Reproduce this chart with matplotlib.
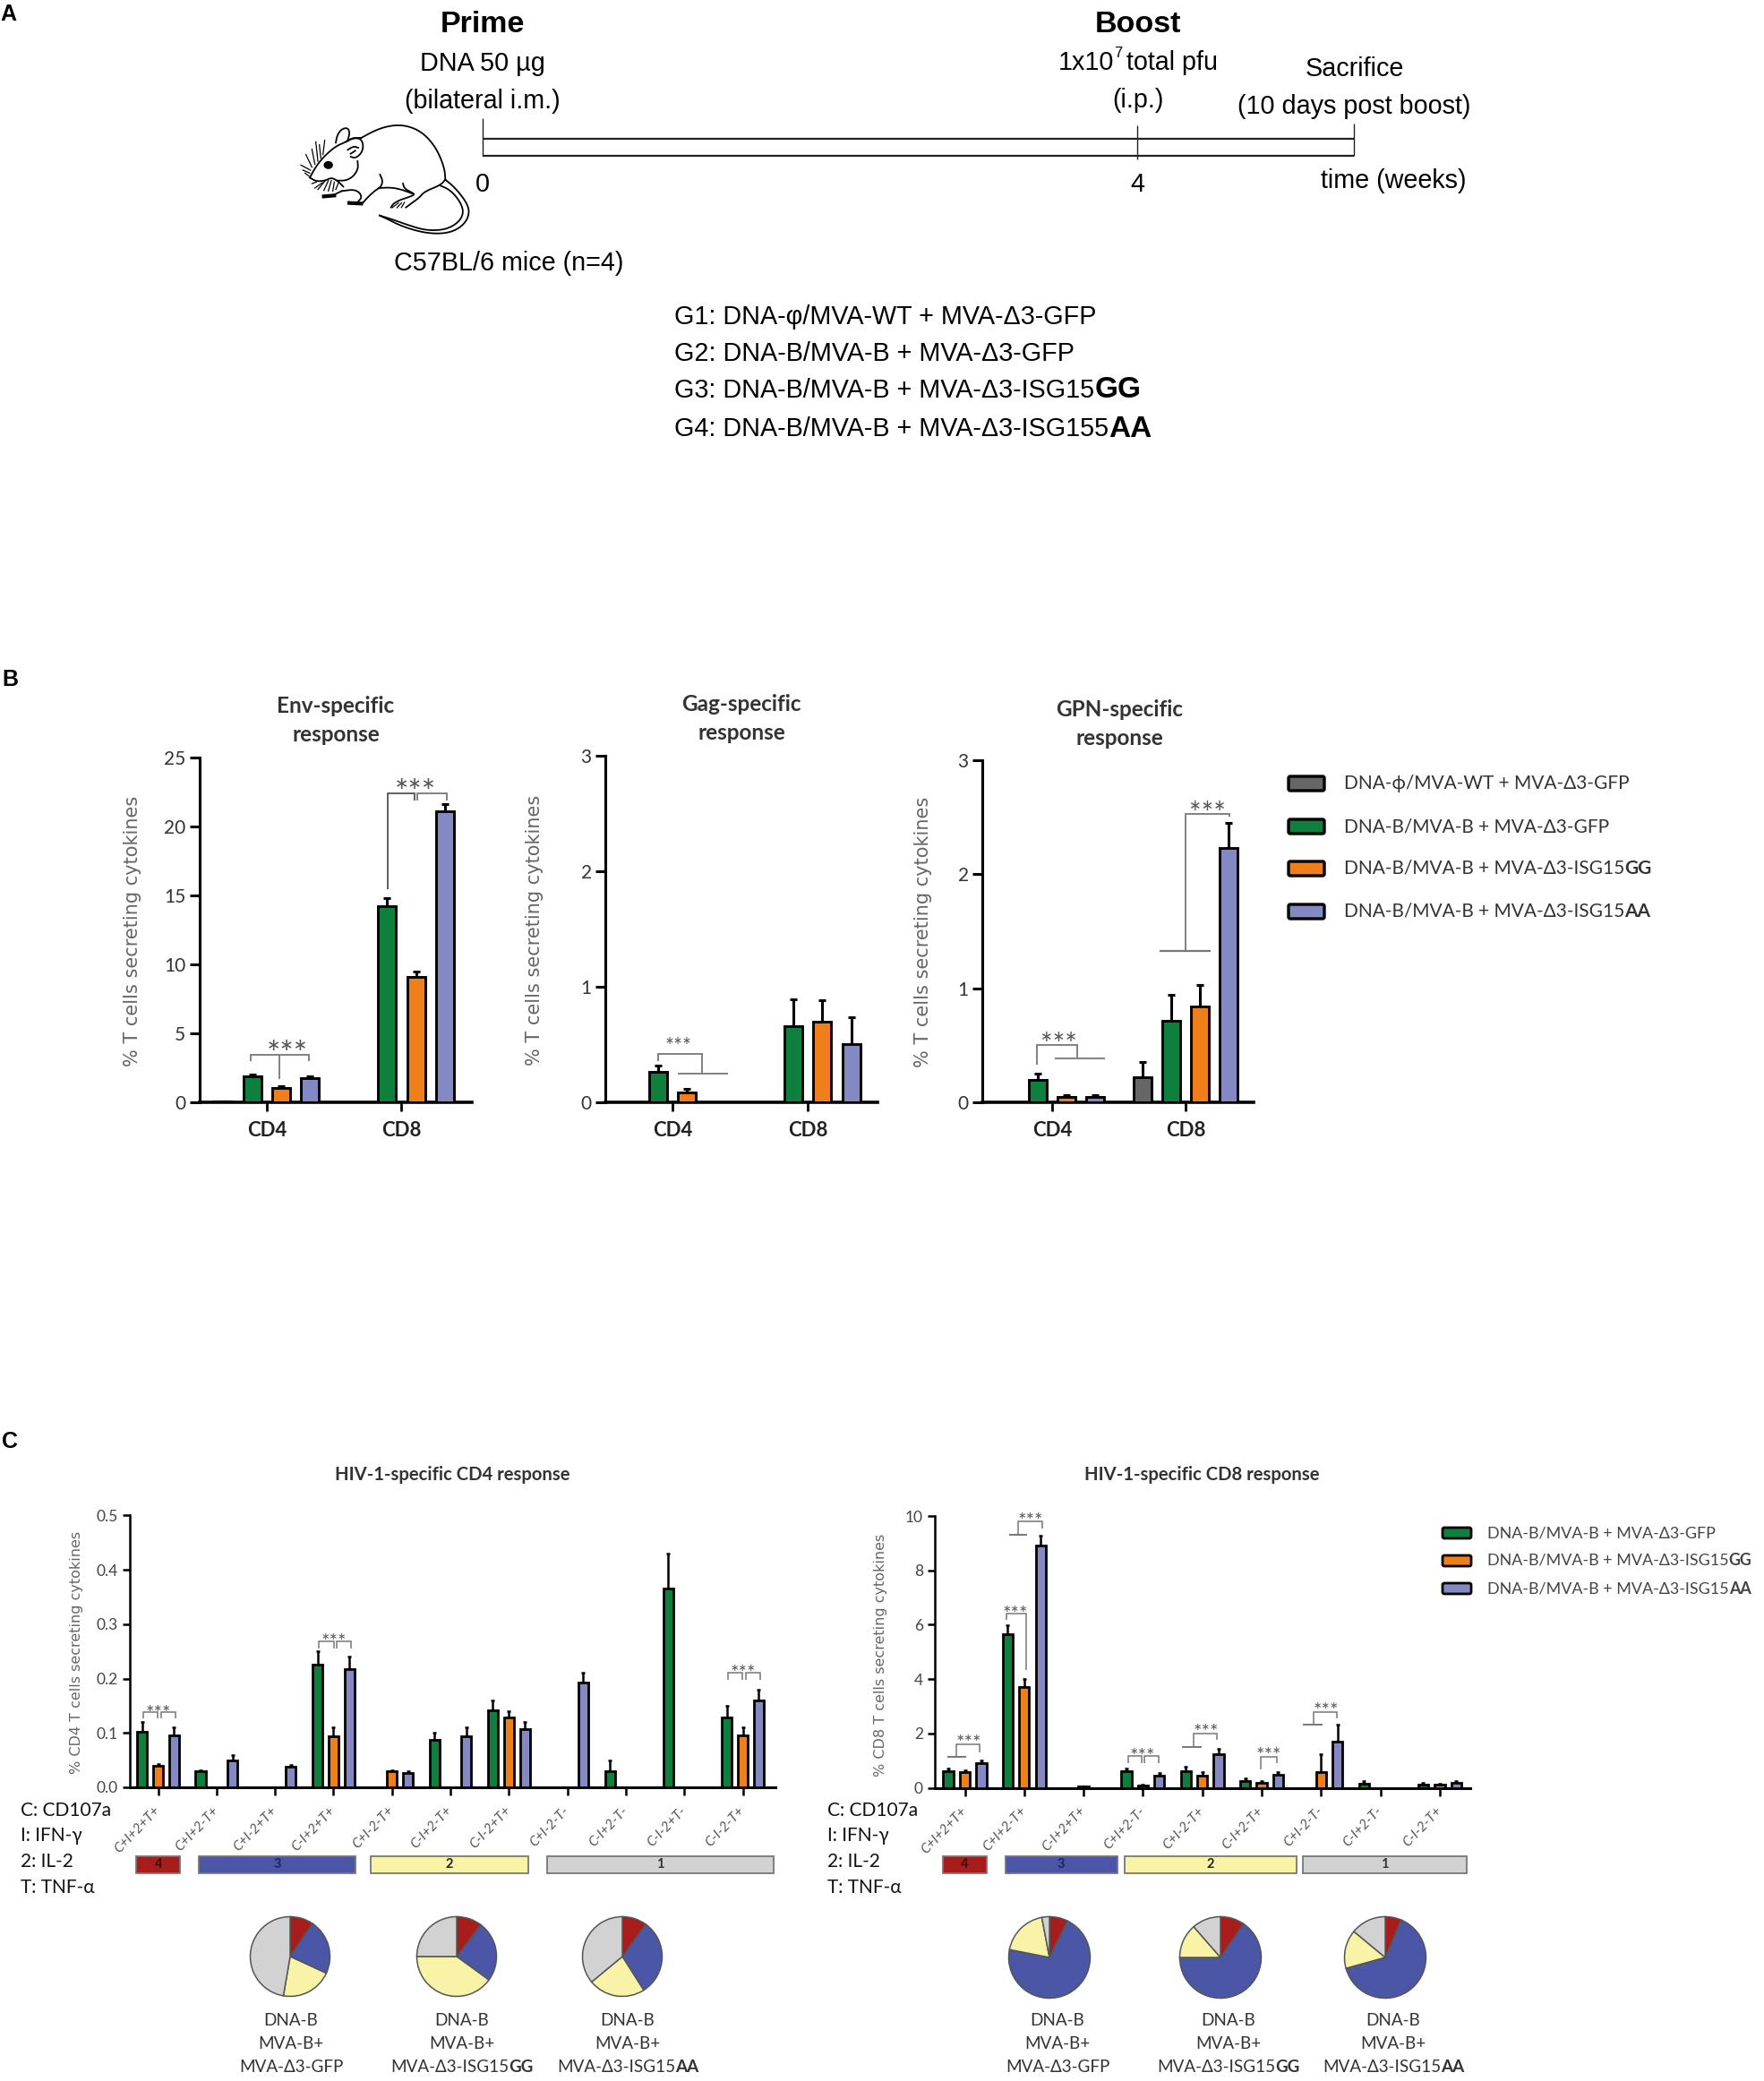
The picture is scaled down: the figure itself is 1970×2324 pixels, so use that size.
import matplotlib
matplotlib.use("Agg")
import matplotlib.pyplot as plt
from matplotlib.patches import Rectangle, Ellipse, FancyBboxPatch

W, H = 1970, 2324
SANS = ['Liberation Sans', 'DejaVu Sans']
BODY = ['Lato', 'Open Sans', 'DejaVu Sans']

GRAY = '#666666'
GREEN = '#0e7f3c'
ORANGE = '#ef7f1a'
PURPLE = '#8489c4'
RED_P = '#a81c1c'
BLUE_P = '#4b56a6'
YELLOW_P = '#f8f3a6'
GRAY_P = '#d2d2d2'

# panel B values (mean / top of error bar), series gray, green, orange, purple
groups_b = ['CD4', 'CD8']

env_ticks = [0, 5, 10, 15, 20, 25]
env_gray = [0.05, 0]
env_gray_top = [0.05, 0]
env_green = [1.86, 14.2]
env_green_top = [2.0, 14.8]
env_orange = [1.05, 9.1]
env_orange_top = [1.15, 9.5]
env_purple = [1.75, 21.1]
env_purple_top = [1.9, 21.6]

gag_ticks = [0, 1, 2, 3]
gag_gray = [0, 0]
gag_gray_top = [0, 0]
gag_green = [0.26, 0.66]
gag_green_top = [0.32, 0.895]
gag_orange = [0.083, 0.695]
gag_orange_top = [0.117, 0.88]
gag_purple = [0, 0.505]
gag_purple_top = [0, 0.733]

gpn_ticks = [0, 1, 2, 3]
gpn_gray = [0, 0.216]
gpn_gray_top = [0, 0.357]
gpn_green = [0.197, 0.717]
gpn_green_top = [0.253, 0.94]
gpn_orange = [0.048, 0.843]
gpn_orange_top = [0.065, 1.03]
gpn_purple = [0.048, 2.227]
gpn_purple_top = [0.065, 2.454]

# panel C, CD4
cd4_labels = ['C+I+2+T+', 'C+I+2-T+', 'C+I-2+T+', 'C-I+2+T+', 'C+I-2-T+', 'C-I+2-T+',
              'C-I-2+T+', 'C+I-2-T-', 'C-I+2-T-', 'C-I-2+T-', 'C-I-2-T+']
cd4_ticks = [0.0, 0.1, 0.2, 0.3, 0.4, 0.5]
cd4_green = [0.102, 0.029, 0, 0.225, 0, 0.088, 0.142, 0, 0.03, 0.365, 0.128]
cd4_green_top = [0.12, 0.031, 0, 0.25, 0, 0.10, 0.16, 0, 0.05, 0.43, 0.15]
cd4_orange = [0.04, 0, 0, 0.094, 0.03, 0, 0.128, 0, 0, 0, 0.096]
cd4_orange_top = [0.042, 0, 0, 0.11, 0.032, 0, 0.14, 0, 0, 0, 0.11]
cd4_purple = [0.096, 0.05, 0.038, 0.218, 0.026, 0.094, 0.107, 0.192, 0, 0, 0.16]
cd4_purple_top = [0.11, 0.06, 0.041, 0.24, 0.03, 0.11, 0.12, 0.21, 0, 0, 0.18]

# panel C, CD8
cd8_labels = ['C+I+2+T+', 'C+I+2-T+', 'C-I+2+T+', 'C+I+2-T-', 'C+I-2-T+', 'C-I+2-T+',
              'C+I-2-T-', 'C-I+2-T-', 'C-I-2-T+']
cd8_ticks = [0, 2, 4, 6, 8, 10]
cd8_green = [0.63, 5.64, 0, 0.6, 0.62, 0.27, 0, 0.15, 0.13]
cd8_green_top = [0.70, 5.97, 0, 0.70, 0.77, 0.35, 0, 0.24, 0.18]
cd8_orange = [0.57, 3.71, 0.04, 0.09, 0.46, 0.19, 0.57, 0, 0.11]
cd8_orange_top = [0.64, 4.0, 0.06, 0.13, 0.59, 0.24, 1.23, 0, 0.15]
cd8_purple = [0.91, 8.92, 0, 0.46, 1.25, 0.47, 1.70, 0, 0.2]
cd8_purple_top = [1.02, 9.26, 0, 0.55, 1.45, 0.59, 2.33, 0, 0.27]

# pies: red, blue, yellow, gray
pie_cd4_gfp = [9.4, 22.5, 20.8, 47.3]
pie_cd4_gg = [10.3, 24.7, 40.0, 25.0]
pie_cd4_aa = [10.0, 31.0, 23.0, 36.0]
pie_cd8_gfp = [7.3, 70.8, 18.9, 3.0]
pie_cd8_gg = [9.5, 65.5, 13.6, 11.4]
pie_cd8_aa = [6.4, 64.3, 15.3, 14.0]

# category bands under panel C, edges on the category axis
band_names = ['4', '3', '2', '1']
band_colors = [RED_P, BLUE_P, YELLOW_P, GRAY_P]
band_text = ['#3a0d0d', '#1c2260', '#222222', '#333333']
cd4_bands = [(-0.37, 0.38), (0.70, 3.38), (3.64, 6.33), (6.65, 10.53)]
cd8_bands = [(-0.375, 0.375), (0.68, 2.57), (2.69, 5.59), (5.69, 8.45)]

fig = plt.figure(figsize=(W / 100, H / 100), dpi=100, facecolor='white')
renderer = fig.canvas.get_renderer()

# overlay in pixel coordinates for text and annotation lines
ov = fig.add_axes([0, 0, 1, 1], zorder=10)
ov.set_xlim(0, W)
ov.set_ylim(H, 0)
ov.axis('off')
ov.patch.set_alpha(0)


def px_axes(x0, x1, ytop, ybot):
    ax = fig.add_axes([x0 / W, 1 - ybot / H, (x1 - x0) / W, (ybot - ytop) / H])
    ax.patch.set_alpha(0)
    for s in ['top', 'right']:
        ax.spines[s].set_visible(False)
    return ax


def label(x, y, s, size, family=BODY, weight='normal', color='#222222', ha='center', **kw):
    return ov.text(x, y, s, fontsize=size, family=family, fontweight=weight, color=color,
                   ha=ha, va='center', **kw)


def rich(x, y, parts, size, family=BODY, color='#222222', ha='left', bold_size=None):
    # mixed normal / bold line, parts are (text, weight)
    items = []
    total = 0
    for s, weight in parts:
        sz = bold_size if (bold_size and weight == 'bold') else size
        t = label(0, y, s, sz, family, weight, color, ha='left')
        w = t.get_window_extent(renderer).width
        items.append((t, w))
        total += w
    cur = x - total / 2 if ha == 'center' else x
    for t, w in items:
        t.set_x(cur)
        cur += w


def lines(points, color='#777777', lw=1.3):
    ov.plot([p[0] for p in points], [p[1] for p in points], color=color, lw=lw,
            solid_capstyle='butt', solid_joinstyle='miter')


def stars(x, y, size=15):
    # asterisks sit high in the text box, y is the centre of the glyphs
    label(x, y + 0.33 * size * 1.389, '***', size, color='#555555')


def draw_bars(ax, xs, means, tops, color, width, lw, cap, elw):
    for x, m, t in zip(xs, means, tops):
        if m <= 0:
            continue
        ax.bar(x, m, width=width, color=color, edgecolor='black', linewidth=lw, zorder=3)
        ax.errorbar(x, m, yerr=[[0], [t - m]], color='black', elinewidth=elw, capsize=cap,
                    capthick=elw, zorder=2)


def panel_b(x0, x1, ytop, ybot, first, step, ticks, series, ylab_x):
    ax = px_axes(x0, x1, ytop, ybot)
    ax.set_xlim((x0 - first) / step, (x1 - first) / step)
    ax.set_ylim(0, ticks[-1])
    gap = 4.66
    for i, (means, tops, color) in enumerate(series):
        xs = [i, i + gap]
        draw_bars(ax, xs, means, tops, color, 0.62, 2.1, 3, 2.2)
    ax.set_xticks([1.5, 1.5 + gap])
    ax.set_xticklabels(groups_b, fontsize=16, family=BODY, fontweight='bold', color='#222222')
    ax.set_yticks(ticks)
    ax.set_yticklabels([str(v) for v in ticks], fontsize=15, family=BODY, color='#333333')
    ax.tick_params(axis='x', length=7, width=2, pad=8)
    ax.tick_params(axis='y', length=8, width=2.2, pad=3)
    ax.spines['left'].set_linewidth(2.2)
    ax.spines['bottom'].set_linewidth(2.6)
    label(ylab_x, (ytop + ybot) / 2 + 1, '% T cells secreting cytokines', 15,
          family=['DejaVu Sans'], color='#666666', rotation=90)
    return ax


def panel_c(x0, x1, ytop, ybot, tick0, step, cats, ticks, ymax, fmt, series, bands, off):
    ax = px_axes(x0, x1, ytop, ybot)
    ax.set_xlim((x0 - tick0) / step, (x1 - tick0) / step)
    ax.set_ylim(0, ymax)
    for i, (means, tops, color) in enumerate(series):
        xs = [k + (i - 1) * off for k in range(len(cats))]
        draw_bars(ax, xs, means, tops, color, 0.17, 2.0, 1.5, 1.8)
    ax.set_xticks(range(len(cats)))
    ax.set_xticklabels(cats, rotation=46, ha='right', va='center', rotation_mode='anchor',
                       fontsize=11, family=BODY, style='italic', color='#555555')
    ax.set_yticks(ticks)
    ax.set_yticklabels([fmt % v for v in ticks], fontsize=12.5, family=BODY, color='#444444')
    ax.tick_params(axis='x', length=6.5, width=1.8, pad=10.5)
    ax.tick_params(axis='y', length=5.5, width=1.8, pad=4)
    ax.spines['left'].set_linewidth(1.8)
    ax.spines['bottom'].set_linewidth(2.2)
    # bands: x follows the category axis, y in figure pixels
    trans = ax.get_xaxis_transform(which='grid')
    ybot_band = (ybot - 2092) / (ybot - ytop)
    yh = (2092 - 2073) / (ybot - ytop)
    for (a, b), name, col, tc in zip(bands, band_names, band_colors, band_text):
        ax.add_patch(Rectangle((a, ybot_band), b - a, yh, transform=trans, facecolor=col,
                               edgecolor='#777777', lw=1.3, clip_on=False))
        ax.text((a + b) / 2, ybot_band + yh / 2, name, transform=trans, ha='center', va='center',
                fontsize=10.5, family=BODY, fontweight='bold', color=tc)
    return ax


def pie(cx, cy, r, fracs):
    pad = 1.03
    ax = fig.add_axes([(cx - r * pad) / W, 1 - (cy + r * pad) / H, 2 * r * pad / W, 2 * r * pad / H])
    ax.pie(fracs, colors=[RED_P, BLUE_P, YELLOW_P, GRAY_P], startangle=90, counterclock=False,
           wedgeprops={'edgecolor': '#555555', 'linewidth': 1.1})
    ax.set_xlim(-pad, pad)
    ax.set_ylim(-pad, pad)


def smooth(pts, n=2):
    for _ in range(n):
        out = [pts[0]]
        for a, b in zip(pts[:-1], pts[1:]):
            out.append((0.75 * a[0] + 0.25 * b[0], 0.75 * a[1] + 0.25 * b[1]))
            out.append((0.25 * a[0] + 0.75 * b[0], 0.25 * a[1] + 0.75 * b[1]))
        out.append(pts[-1])
        pts = out
    return pts


# ---------- panel A ----------
label(0, 16, 'A', 18, SANS, 'bold', 'black', ha='left')
label(539, 28, 'Prime', 24.5, SANS, 'bold', 'black')
label(1271, 27, 'Boost', 24.5, SANS, 'bold', 'black')
label(539, 71, 'DNA 50 µg', 20.7, SANS, color='black')
label(539, 113, '(bilateral i.m.)', 20.7, SANS, color='black')
label(1182, 70, '1x10', 20.7, SANS, color='black', ha='left')
label(1244, 60, '7', 12, SANS, color='black', ha='left')
label(1258, 70, 'total pfu', 20.7, SANS, color='black', ha='left')
label(1271, 112, '(i.p.)', 20.7, SANS, color='black')
label(1513, 77, 'Sacrifice', 20.7, SANS, color='black')
label(1512, 119, '(10 days post boost)', 20.7, SANS, color='black')
label(539, 206, '0', 20.7, SANS, color='black')
label(1270, 206, '4', 20.7, SANS, color='black')
label(1556, 202, 'time (weeks)', 20.7, SANS, color='black')
label(568, 294, 'C57BL/6 mice (n=4)', 20.7, SANS, color='black')
lines([(539, 155), (1512, 155)], '#222222', 1.6)
lines([(539, 174), (1512, 174)], '#222222', 1.6)
lines([(539, 132), (539, 174)], '#222222', 1.0)
lines([(1270, 140), (1270, 178)], '#222222', 1.0)
lines([(1512, 138), (1512, 174)], '#222222', 1.0)

g_lines = [[('G1: DNA-φ/MVA-WT + MVA-Δ3-GFP', 'normal')],
           [('G2: DNA-B/MVA-B + MVA-Δ3-GFP', 'normal')],
           [('G3: DNA-B/MVA-B + MVA-Δ3-ISG15', 'normal'), ('GG', 'bold')],
           [('G4: DNA-B/MVA-B + MVA-Δ3-ISG155', 'normal'), ('AA', 'bold')]]
for parts, y in zip(g_lines, [354, 395, 436, 479]):
    rich(753, y, parts, 20.7, SANS, 'black', bold_size=24)

# mouse, traced line art
mouse = [
    [(250, 72), (300, 45), (350, 30), (400, 30), (450, 50), (490, 90), (515, 135), (530, 180), (532, 212)],
    [(532, 212), (560, 235), (590, 270), (608, 300), (612, 325), (600, 355), (570, 380), (530, 392),
     (480, 392), (430, 382), (380, 365), (340, 345), (312, 332)],
    [(516, 232), (545, 245), (570, 270), (588, 300), (592, 325), (580, 350), (550, 372), (510, 382),
     (460, 380), (410, 365), (360, 347), (312, 332)],
    [(532, 212), (516, 230), (462, 252), (445, 272), (420, 290), (400, 305)],
    [(390, 225), (395, 242), (420, 255), (430, 262), (405, 272), (380, 280), (358, 292), (350, 305)],
    [(310, 240), (350, 238), (385, 245), (420, 258)],
    [(310, 240), (295, 250), (275, 268), (255, 290)],
    [(313, 195), (322, 215), (318, 232), (310, 240)],
    [(185, 250), (225, 245), (245, 255), (252, 272), (240, 285)],
    [(78, 205), (100, 165), (130, 130), (165, 100), (200, 85), (220, 72), (250, 72)],
    [(165, 88), (170, 62), (185, 42), (205, 38), (212, 55), (205, 80)],
    [(200, 85), (225, 72), (250, 75), (258, 100), (250, 125), (230, 140), (215, 135)],
    [(205, 112), (225, 100), (240, 105)],
    [(215, 125), (230, 115)],
    [(238, 150), (240, 175), (225, 200), (200, 215), (170, 215)],
    [(78, 205), (100, 218), (130, 215), (150, 205), (170, 215), (190, 235)],
    [(160, 262), (185, 250)],
]
whiskers = [
    [(85, 170), (65, 128)], [(95, 160), (85, 110)], [(105, 150), (98, 85)], [(115, 140), (110, 95)],
    [(122, 128), (128, 80)], [(80, 180), (48, 163)], [(78, 190), (55, 180)], [(75, 200), (62, 190)],
    [(130, 215), (105, 245)], [(140, 215), (125, 248)], [(150, 215), (140, 250)], [(160, 220), (155, 250)],
    [(100, 220), (85, 225)], [(175, 220), (165, 245)], [(120, 222), (95, 240)],
    [(355, 305), (375, 290)], [(370, 306), (385, 290)], [(385, 305), (395, 288)],
]
blobs = [[(125, 268), (160, 265)], [(210, 290), (250, 292)]]


def mx(p):
    return (320 + p[0] / 3, 130 + p[1] / 3)


for pts in mouse:
    s = smooth([mx(p) for p in pts])
    ov.plot([p[0] for p in s], [p[1] for p in s], color='black', lw=1.3)
for pts in whiskers:
    s = [mx(p) for p in pts]
    ov.plot([p[0] for p in s], [p[1] for p in s], color='black', lw=0.9)
for pts in blobs:
    s = [mx(p) for p in pts]
    ov.plot([p[0] for p in s], [p[1] for p in s], color='black', lw=3)
ov.add_patch(Ellipse(mx((140, 163)), 9, 7.5, color='black'))

# ---------- panel B ----------
label(2, 759, 'B', 18, SANS, 'bold', 'black', ha='left')
label(375, 788, 'Env-specific', 17.5, weight='bold', color='#333333')
label(375, 820, 'response', 17.5, weight='bold', color='#333333')
label(828, 787, 'Gag-specific', 17.5, weight='bold', color='#333333')
label(828, 819, 'response', 17.5, weight='bold', color='#333333')
label(1250, 792, 'GPN-specific', 17.5, weight='bold', color='#333333')
label(1250, 824, 'response', 17.5, weight='bold', color='#333333')

panel_b(222.5, 527, 846, 1231, 249.4, 32.3, env_ticks,
        [(env_gray, env_gray_top, GRAY), (env_green, env_green_top, GREEN),
         (env_orange, env_orange_top, ORANGE), (env_purple, env_purple_top, PURPLE)], 148)
panel_b(676, 980, 844, 1231, 702.5, 32.4, gag_ticks,
        [(gag_gray, gag_gray_top, GRAY), (gag_green, gag_green_top, GREEN),
         (gag_orange, gag_orange_top, ORANGE), (gag_purple, gag_purple_top, PURPLE)], 597)
panel_b(1097, 1400, 849, 1231, 1127, 32.0, gpn_ticks,
        [(gpn_gray, gpn_gray_top, GRAY), (gpn_green, gpn_green_top, GREEN),
         (gpn_orange, gpn_orange_top, ORANGE), (gpn_purple, gpn_purple_top, PURPLE)], 1031)

# significance marks, panel B
lines([(280, 1185), (280, 1178), (345, 1178), (345, 1185)])
lines([(312, 1178), (312, 1205)])
stars(321, 1167, 26)
lines([(433, 993), (433, 886), (463, 886), (463, 894)], '#444444', 1.2)
lines([(466, 894), (466, 886), (499, 886), (499, 894)], '#777777')
stars(464, 875, 26)
lines([(735, 1185), (735, 1177), (784, 1177), (784, 1199)])
lines([(757, 1199), (813, 1199)])
stars(758, 1161, 17)
lines([(1158, 1189), (1158, 1167), (1203, 1167), (1203, 1182)])
lines([(1178, 1182), (1234, 1182)])
stars(1182, 1157, 23)
lines([(1373, 912), (1373, 909), (1324, 909), (1324, 1062)])
lines([(1295, 1062), (1352, 1062)], lw=1.6)
stars(1348, 899, 23)

legend_b = [([('DNA-ϕ/MVA-WT + MVA-Δ3-GFP', 'normal')], GRAY),
            ([('DNA-B/MVA-B + MVA-Δ3-GFP', 'normal')], GREEN),
            ([('DNA-B/MVA-B + MVA-Δ3-ISG15', 'normal'), ('GG', 'bold')], ORANGE),
            ([('DNA-B/MVA-B + MVA-Δ3-ISG15', 'normal'), ('AA', 'bold')], PURPLE)]
for (parts, col), y in zip(legend_b, [875, 923, 970, 1018]):
    ov.add_patch(FancyBboxPatch((1439, y - 8), 40, 16, boxstyle='round,pad=0,rounding_size=2',
                                facecolor=col, edgecolor='black', lw=2.4))
    rich(1501, y, parts, 15, color='#333333')

# ---------- panel C ----------
label(2, 1610, 'C', 18, SANS, 'bold', 'black', ha='left')
label(505, 1647, 'HIV-1-specific CD4 response', 14.6, weight='bold', color='#333333')
label(1342.5, 1647, 'HIV-1-specific CD8 response', 14.6, weight='bold', color='#333333')

panel_c(145, 866, 1692.3, 1996, 176.5, 65.3, cd4_labels, cd4_ticks, 0.5, '%.1f',
        [(cd4_green, cd4_green_top, GREEN), (cd4_orange, cd4_orange_top, ORANGE),
         (cd4_purple, cd4_purple_top, PURPLE)], cd4_bands, 0.273)
panel_c(1044, 1642, 1693, 1996.7, 1077.5, 66.3, cd8_labels, cd8_ticks, 10, '%d',
        [(cd8_green, cd8_green_top, GREEN), (cd8_orange, cd8_orange_top, ORANGE),
         (cd8_purple, cd8_purple_top, PURPLE)], cd8_bands, 0.278)

label(85.5, 1845, '% CD4 T cells secreting cytokines', 11.5, family=['DejaVu Sans'], color='#666666', rotation=90)
label(983.5, 1848, '% CD8 T cells secreting cytokines', 11.5, family=['DejaVu Sans'], color='#666666', rotation=90)

for x in [23, 924]:
    for s, y in zip(['C: CD107a', 'I: IFN-γ', '2: IL-2', 'T: TNF-α'], [2022, 2050, 2079, 2108]):
        label(x, y, s, 15, color='#111111', ha='left')

# significance marks, panel C
for a, b, c, d, yt, yb in [(159.5, 175.5, 179.5, 195.5, 1911.7, 1919.3),
                           (356, 373, 376, 392, 1832.7, 1840.7),
                           (813, 829, 833, 849, 1867.7, 1875.7),
                           (1260, 1275, 1278, 1294, 1960.7, 1968.7)]:
    lines([(a, yb), (a, yt), (b, yt), (b, yb)], lw=1.1)
    lines([(c, yb), (c, yt), (d, yt), (d, yb)], lw=1.1)
for x, y in [(176.5, 1906.7), (373, 1827), (830, 1862), (1276, 1955), (1082, 1940), (1151, 1691.7),
             (1134, 1795.3), (1347, 1927.3), (1417, 1953.7), (1481, 1903.7)]:
    stars(x, y, 16)
lines([(1058, 1962.3), (1079, 1962.3)], lw=1.4)
lines([(1068, 1962.3), (1068, 1948.3), (1094, 1948.3), (1094, 1956.7)], lw=1.1)
lines([(1127, 1714), (1147, 1714)], lw=1.4)
lines([(1137, 1714), (1137, 1699.3), (1164, 1699.3), (1164, 1707.3)], lw=1.1)
lines([(1124, 1809.3), (1124, 1802), (1146, 1802), (1146, 1865)], lw=1.1)
lines([(1320, 1951), (1342, 1951)], lw=1.4)
lines([(1333, 1951), (1333, 1936), (1359, 1936), (1359, 1943.3)], lw=1.1)
lines([(1408, 1976), (1408, 1961.7), (1426, 1961.7), (1426, 1968.7)], lw=1.1)
lines([(1455, 1926), (1477, 1926)], lw=1.4)
lines([(1467, 1926), (1467, 1912), (1493, 1912), (1493, 1919.3)], lw=1.1)

legend_c = [([('DNA-B/MVA-B + MVA-Δ3-GFP', 'normal')], GREEN),
            ([('DNA-B/MVA-B + MVA-Δ3-ISG15', 'normal'), ('GG', 'bold')], ORANGE),
            ([('DNA-B/MVA-B + MVA-Δ3-ISG15', 'normal'), ('AA', 'bold')], PURPLE)]
for (parts, col), y in zip(legend_c, [1712, 1743, 1774]):
    ov.add_patch(FancyBboxPatch((1611, y - 6), 32, 12, boxstyle='round,pad=0,rounding_size=2',
                                facecolor=col, edgecolor='black', lw=2))
    rich(1661, y, parts, 12.9, color='#444444')

# pies and their captions
for cx, fr in zip([324, 510, 695], [pie_cd4_gfp, pie_cd4_gg, pie_cd4_aa]):
    pie(cx, 2185, 44.5, fr)
for cx, fr in zip([1172, 1363, 1547], [pie_cd8_gfp, pie_cd8_gg, pie_cd8_aa]):
    pie(cx, 2186, 45.5, fr)

captions = [[('MVA-Δ3-GFP', 'normal')], [('MVA-Δ3-ISG15', 'normal'), ('GG', 'bold')],
            [('MVA-Δ3-ISG15', 'normal'), ('AA', 'bold')]]
for xs in ([325, 516, 701], [1181, 1372, 1556]):
    for x, cap in zip(xs, captions):
        label(x, 2256, 'DNA-B', 13.6, color='#333333')
        label(x, 2282, 'MVA-B+', 13.6, color='#333333')
        rich(x, 2308, cap, 13.6, color='#333333', ha='center')

fig.savefig('out.png', dpi=100)
